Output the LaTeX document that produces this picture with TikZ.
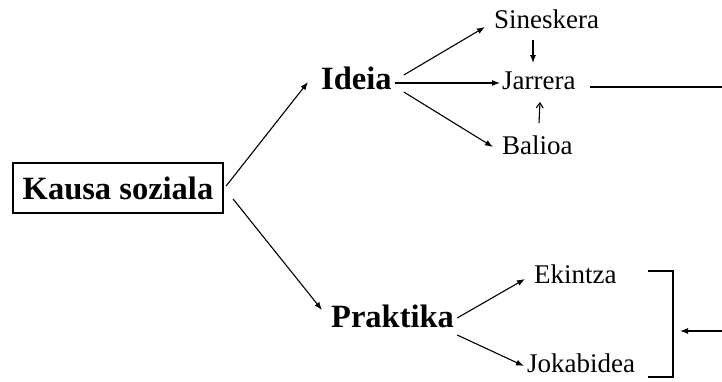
\documentclass[tikz,border=0pt]{standalone}
\usepackage{fontspec}
\setmainfont{Liberation Serif}
\usetikzlibrary{arrows.meta}
\begin{document}
\begin{tikzpicture}[x=1pt,y=-1pt,
  big/.style={font=\fontsize{32.5}{32.5}\selectfont\bfseries, inner sep=0pt, anchor=base west},
  small/.style={font=\fontsize{27}{27}\selectfont, inner sep=0pt, anchor=base west},
  conn/.style={line width=1.1pt, -{Latex[length=8pt,width=6pt]}},
  barb/.style={line width=1.1pt, -{Straight Barb[length=5pt,width=7pt]}},
  plain/.style={line width=1.3pt}]
\useasboundingbox (0,0) rectangle (722,381);
\node[draw, line width=2.2pt, minimum width=210pt, minimum height=50pt, inner sep=0pt,
      font=\fontsize{32.5}{32.5}\selectfont\bfseries] (kausa) at (118,188) {Kausa soziala};
\node[big] (ideia) at (321,89) {Ideia};
\node[big] (praktika) at (331,327) {Praktika};
\node[small] (sineskera) at (494,28) {Sineskera};
\node[small] (jarrera) at (502,89) {Jarrera};
\node[small] (balioa) at (502,154) {Balioa};
\node[small] (ekintza) at (534,283) {Ekintza};
\node[small] (jokabidea) at (527,372) {Jokabidea};
\coordinate (redge) at (722,87);
\coordinate (redge2) at (722,331);
\coordinate (brTL) at (648,271);
\coordinate (brTR) at (673,271);
\coordinate (brBR) at (673,377);
\coordinate (brBL) at (648,377);
\coordinate (brIn) at (680,331);

\draw[conn] ([shift={(2,-2)}]kausa.east) -- ([shift={(-13,-7)}]ideia.base west);
\draw[conn] ([shift={(9,11)}]kausa.east) -- ([shift={(-9,-17)}]praktika.base west);
\draw[conn] ([shift={(12,-14)}]ideia.base east) -- ([shift={(-9,-1)}]sineskera.base west);
\draw[conn] ([shift={(3,-6)}]ideia.base east) -- ([shift={(-2,-6)}]jarrera.base west);
\draw[conn] ([shift={(12,3)}]ideia.base east) -- ([shift={(-9,-7)}]balioa.base west);
\draw[conn] ([shift={(39,12)}]sineskera.base west) -- ([shift={(31,-26)}]jarrera.base west);
\draw[barb] ([shift={(37,-31)}]balioa.base west) -- ([shift={(38,13)}]jarrera.base west);
\draw[plain] ([shift={(14,-2)}]jarrera.base east) -- (redge);
\draw[conn] ([shift={(3,-9)}]praktika.base east) -- ([shift={(-9,-4)}]ekintza.base west);
\draw[conn] ([shift={(3,8)}]praktika.base east) -- ([shift={(-3,-6)}]jokabidea.base west);
\draw[plain] (brTL) -- (brTR) -- (brBR) -- (brBL);
\draw[conn] (redge2) -- (brIn);
\end{tikzpicture}
\end{document}
